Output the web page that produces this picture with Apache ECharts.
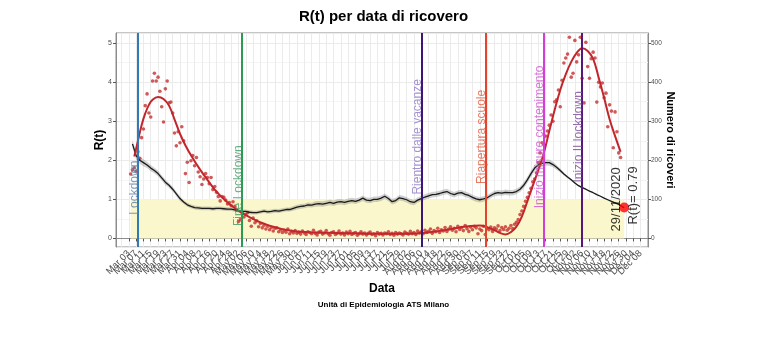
<!DOCTYPE html>
<html><head><meta charset="utf-8">
<script src="https://cdn.jsdelivr.net/npm/echarts@6/dist/echarts.min.js"></script>
<style>html,body{margin:0;padding:0;background:#fff}#c{width:767px;height:349px}</style>
</head><body><div id="c"></div>
<script>
// ---- categories: daily dates on the x axis ----
const startDate = '2020-02-25';
const nDays = 292; // Feb 25 .. Dec 12 2020
const firstLabelIndex = 3; // Feb 28
const labelStep = 4;
const monthNames = ['Jan','Feb','Mar','Apr','May','Jun','Jul','Aug','Sep','Oct','Nov','Dec'];

// ---- hospitalisations per day (right axis), starting at index 8 (Mar 4) ----
const ricoveriStart = 8;
const ricoveri = [
165,176,181,172,222,205,258,280,340,370,321,311,403,423,403,413,377,337,298,383,
403,347,349,321,270,237,273,245,286,250,166,195,143,199,212,186,207,170,158,138,
152,166,156,140,156,125,133,118,107,96,107,105,98,88,92,84,94,82,72,43,
48,66,55,61,66,46,31,52,40,45,30,38,27,34,24,31,22,28,19,26,
27,17,22,15,21,16,24,12,18,14,20,13,16,11,19,14,10,17,15,12,
21,13,9,16,18,11,14,20,12,8,15,17,10,13,19,11,14,9,16,12,
18,10,13,15,8,12,17,11,14,9,13,16,10,12,7,15,11,13,9,14,
12,17,10,13,8,15,11,14,12,9,16,13,11,18,12,15,10,19,14,17,
12,21,15,18,24,13,20,17,26,15,22,19,28,18,24,30,21,26,17,31,
23,28,20,33,25,18,29,22,31,27,12,24,20,31,10,26,22,29,18,27,
24,32,20,28,23,30,21,26,33,25,36,41,48,61,70,82,95,105,117,128,
145,152,168,194,219,245,240,262,275,290,316,300,350,355,380,337,405,449,462,472,
515,413,423,507,452,470,515,410,347,502,440,410,460,477,462,349,400,388,398,360,
372,286,342,326,232,324,273,219,207
];

// ---- smoothed hospitalisation curve: [day index, value] ----
const ricoveriSmooth = [
[10,210],[12,250],[14,290],[16,320],[18,342],[20,355],[23,362],[26,357],[29,340],[32,305],
[35,268],[38,238],[42,205],[46,176],[50,150],[54,125],[58,105],[62,88],[66,74],[70,62],
[74,52],[78,43],[82,36],[86,30],[90,25],[95,20],[100,17],[110,15],[120,14],[130,13],
[140,12],[150,12],[160,12],[168,14],[175,18],[182,23],[188,28],[194,32],[199,33],[203,29],
[207,21],[210,14],[213,10],[216,16],[219,30],[222,56],[225,95],[228,135],[231,175],[234,218],
[237,275],[240,330],[243,380],[246,420],[249,452],[252,475],[255,487],[258,480],[261,460],[264,412],
[267,360],[270,305],[273,262],[276,222]
];

// ---- R(t): [day index, value] and half width of the grey band ----
const rtPoints = [
[9,2.42],[11,2.12],[13,2.00],[15,1.94],[17,1.88],[19,1.80],[21,1.74],[23,1.66],[25,1.55],[27,1.44],
[29,1.36],[31,1.26],[33,1.14],[35,1.02],[37,0.93],[39,0.86],[41,0.82],[43,0.79],[45,0.78],[47,0.77],
[49,0.77],[51,0.77],[53,0.76],[55,0.77],[57,0.77],[59,0.76],[61,0.75],[63,0.75],[65,0.73],[67,0.71],
[69,0.69],[71,0.69],[73,0.67],[75,0.66],[77,0.66],[79,0.68],[81,0.70],[83,0.68],[85,0.69],[87,0.71],
[89,0.70],[91,0.72],[93,0.74],[95,0.74],[97,0.77],[99,0.80],[101,0.82],[103,0.83],[105,0.86],[107,0.85],
[109,0.88],[111,0.89],[113,0.88],[115,0.90],[117,0.92],[119,0.90],[121,0.93],[123,0.94],[125,0.92],[127,0.95],
[129,0.97],[131,0.95],[133,0.98],[135,1.03],[137,0.98],[139,0.97],[141,1.00],[143,1.00],[145,1.03],[147,1.08],
[149,1.02],[151,0.94],[153,0.97],[155,1.04],[157,1.02],[159,0.99],[161,0.94],[163,0.92],[165,0.98],[167,1.02],
[169,1.06],[171,1.09],[173,1.12],[175,1.13],[177,1.15],[179,1.18],[181,1.20],[183,1.15],[185,1.12],[187,1.16],
[189,1.17],[191,1.13],[193,1.10],[195,1.05],[197,1.01],[199,0.99],[201,1.01],[203,1.04],[205,1.10],[207,1.15],
[209,1.17],[211,1.16],[213,1.18],[215,1.17],[217,1.17],[219,1.20],[221,1.26],[223,1.36],[225,1.50],[227,1.66],
[229,1.80],[231,1.88],[233,1.92],[235,1.94],[237,1.94],[239,1.89],[241,1.82],[243,1.74],[245,1.65],[247,1.57],
[249,1.50],[251,1.42],[253,1.35],[255,1.30],[257,1.26],[259,1.21],[261,1.17],[263,1.12],[265,1.08],[267,1.03],
[269,0.99],[271,0.95],[273,0.91],[275,0.87],[277,0.81],[278,0.79]
];
const rtBandHalf = [
0.10,0.10,0.09,0.09,0.08,0.08,0.07,0.07,0.07,0.07,
0.06,0.06,0.06,0.06,0.05,0.05,0.05,0.05,0.05,0.05,
0.05,0.05,0.05,0.05,0.05,0.05,0.05,0.05,0.05,0.05,
0.05,0.05,0.05,0.05,0.05,0.05,0.05,0.05,0.05,0.05,
0.05,0.05,0.05,0.05,0.06,0.06,0.06,0.06,0.06,0.06,
0.07,0.07,0.07,0.07,0.07,0.07,0.07,0.07,0.07,0.07,
0.07,0.07,0.07,0.07,0.07,0.07,0.07,0.07,0.07,0.07,
0.07,0.07,0.07,0.07,0.07,0.07,0.07,0.07,0.07,0.07,
0.07,0.07,0.07,0.07,0.07,0.07,0.07,0.07,0.07,0.07,
0.07,0.07,0.07,0.07,0.07,0.07,0.07,0.07,0.07,0.07,
0.07,0.07,0.07,0.07,0.07,0.07,0.07,0.08,0.08,0.08,
0.08,0.08,0.08,0.08,0.08,0.07,0.06,0.05,0.04,0.03,
0.03,0.02,0.02,0.02,0.02,0.01,0.01,0.01,0.01,0.01,
0.01,0.01,0.01,0.01,0.01,0.01
];

// ---- events ----
const eventNames  = ['Lockdown','Fine Lockdown','Rientro dalle vacanze','Riapertura scuole','Inizio misure contenimento','Inizio II lockdown'];
const eventIndex  = [12, 69, 167, 202, 234, 255];
const eventLabelY = [1.3, 1.35, 2.6, 2.6, 2.6, 2.6];
const eventLineColors = ['#2f7bb8','#2a9a55','#3b1677','#e5432c','#d23fd6','#57167a'];
const eventTextColors = ['#5d7fa6','#3d9a60','#8f78c8','#e2583a','#cf52cf','#7b4a9a'];

const lastIndex = 278;
const lastR = 0.79;
const lastDateText = '29/11/2020';
const lastRText = 'R(t)= 0.79';

// ---- build ----
const categories = [];
{
  const d0 = new Date(startDate + 'T00:00:00Z');
  for (let k = 0; k < nDays; k++) {
    const d = new Date(d0.getTime() + k * 86400000);
    categories.push(monthNames[d.getUTCMonth()] + ' ' + String(d.getUTCDate()).padStart(2, '0'));
  }
}
const showTick = (idx) => idx >= firstLabelIndex && (idx - firstLabelIndex) % labelStep === 0;

const ricoveriData = ricoveri.map((v, k) => [ricoveriStart + k, v]);
const bandLow = rtPoints.map((p, k) => [p[0], +(p[1] - rtBandHalf[k]).toFixed(3)]);
const bandDiff = rtPoints.map((p, k) => [p[0], +(2 * rtBandHalf[k]).toFixed(3)]);

const FONT = 'Liberation Sans, Arial, sans-serif';

const eventLabelSeries = eventNames.map((name, k) => ({
  type: 'scatter', yAxisIndex: 0, symbolSize: 0, silent: true, z: 6,
  data: [{ value: [eventIndex[k] - 2.3, eventLabelY[k]], name }],
  label: { show: true, position: 'inside', rotate: 90, formatter: '{b}',
           color: eventTextColors[k], fontSize: 12, fontFamily: FONT }
}));

const chart = echarts.init(document.getElementById('c'), null, { renderer: 'canvas' });
chart.setOption({
  animation: false,
  backgroundColor: '#ffffff',
  textStyle: { fontFamily: FONT },
  title: [
    { text: 'R(t) per data di ricovero', left: 'center', top: 4,
      textStyle: { fontSize: 15, fontWeight: 'bold', color: '#000', fontFamily: FONT } },
    { text: 'Unità di Epidemiologia ATS Milano', left: 'center', top: 296,
      textStyle: { fontSize: 8, fontWeight: 'bold', color: '#000', fontFamily: FONT } }
  ],
  grid: { left: 116, right: 119, top: 33, bottom: 102, show: true, borderColor: '#8c8c8c', borderWidth: 1 },
  xAxis: {
    type: 'category', data: categories, boundaryGap: false,
    name: 'Data', nameLocation: 'middle', nameGap: 36, nameMoveOverlap: false,
    nameTextStyle: { fontSize: 12, fontWeight: 'bold', color: '#000', fontFamily: FONT },
    axisLine: { show: true, lineStyle: { color: '#8c8c8c' } },
    axisTick: { show: true, interval: showTick, length: 3, lineStyle: { color: '#555' } },
    axisLabel: { interval: showTick, rotate: 45, fontSize: 9.5, color: '#4d4d4d', margin: 5, hideOverlap: false, fontFamily: FONT },
    splitLine: { show: true, interval: showTick, lineStyle: { color: '#ebebeb', width: 1 } }
  },
  yAxis: [
    { type: 'value', min: -0.22, max: 5.26,
      name: 'R(t)', nameLocation: 'middle', nameGap: 10, nameRotate: 90, nameMoveOverlap: false,
      nameTextStyle: { fontSize: 12, fontWeight: 'bold', color: '#000', fontFamily: FONT },
      axisLine: { show: true, lineStyle: { color: '#8c8c8c' } },
      axisTick: { show: true, length: 3, lineStyle: { color: '#555' } },
      axisLabel: { fontSize: 7, color: '#4d4d4d', margin: 4, showMinLabel: false, showMaxLabel: false, fontFamily: FONT },
      splitLine: { show: true, lineStyle: { color: '#ebebeb' } },
      minorTick: { show: false, splitNumber: 2 },
      minorSplitLine: { show: true, lineStyle: { color: '#f4f4f4' } }
    },
    { type: 'value', min: -22, max: 526, position: 'right',
      name: 'Numero di ricoveri', nameLocation: 'middle', nameGap: 17, nameRotate: -90, nameMoveOverlap: false,
      nameTextStyle: { fontSize: 11, fontWeight: 'bold', color: '#000', fontFamily: FONT },
      axisLine: { show: true, lineStyle: { color: '#8c8c8c' } },
      axisTick: { show: true, length: 3, lineStyle: { color: '#555' } },
      axisLabel: { fontSize: 6.5, color: '#4d4d4d', margin: 3, showMinLabel: false, showMaxLabel: false, fontFamily: FONT },
      splitLine: { show: false }
    }
  ],
  series: [
    { type: 'line', yAxisIndex: 0, data: bandLow, stack: 'ci', symbol: 'none', silent: true, z: 2,
      lineStyle: { opacity: 0 },
      markArea: { silent: true, itemStyle: { color: '#fbf7cc' },
        data: [[{ coord: [8, 0] }, { coord: [lastIndex, 1] }]] }
    },
    { type: 'line', yAxisIndex: 0, data: bandDiff, stack: 'ci', symbol: 'none', silent: true, z: 2,
      lineStyle: { opacity: 0 }, areaStyle: { color: 'rgba(125,125,125,0.5)' } },
    { type: 'line', yAxisIndex: 0, data: rtPoints, symbol: 'none', z: 4,
      lineStyle: { color: '#1a1a1a', width: 1.3 } },
    { type: 'scatter', yAxisIndex: 1, data: ricoveriData, symbolSize: 3.6, z: 3,
      itemStyle: { color: '#c4302f' } },
    { type: 'line', yAxisIndex: 1, data: ricoveriSmooth, smooth: 0.4, symbol: 'none', z: 4,
      lineStyle: { color: '#c1262c', width: 2 } },
    { type: 'line', yAxisIndex: 0, data: [], z: 5,
      markLine: { silent: true, symbol: 'none', label: { show: false },
        data: eventIndex.map((ix, k) => ({ xAxis: ix, lineStyle: { color: eventLineColors[k], width: 2, type: 'solid' } })) } },
    ...eventLabelSeries,
    { type: 'scatter', yAxisIndex: 0, z: 7, symbolSize: 10, itemStyle: { color: '#ff0000' },
      data: [[lastIndex, lastR]] },
    { type: 'scatter', yAxisIndex: 0, z: 7, symbolSize: 0,
      data: [{ value: [lastIndex - 3.7, 1.0], name: lastDateText }, { value: [lastIndex + 5, 1.1], name: lastRText }],
      label: { show: true, position: 'inside', rotate: 90, formatter: '{b}', color: '#000', fontSize: 13, fontFamily: FONT } }
  ]
});
</script>
</body></html>
